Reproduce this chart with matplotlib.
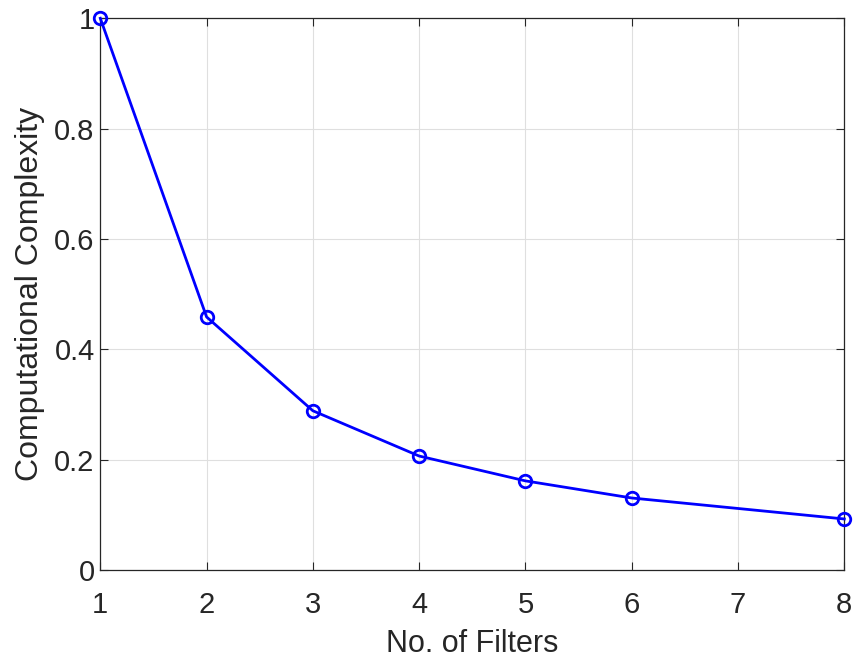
import matplotlib
matplotlib.use("Agg")
import matplotlib.pyplot as plt

filters = [1, 2, 3, 4, 5, 6, 8]
complexity = [1.0, 0.459, 0.289, 0.207, 0.162, 0.131, 0.093]
xticks = [1, 2, 3, 4, 5, 6, 7, 8]
yticks = [0, 0.2, 0.4, 0.6, 0.8, 1]
ytick_labels = ["0", "0.2", "0.4", "0.6", "0.8", "1"]

plt.rcParams['font.family'] = ['Liberation Sans', 'DejaVu Sans']
txt = '#262626'

fig = plt.figure(figsize=(8.59, 6.6), dpi=100)
ax = fig.add_axes([100.3/859, 1 - 570.3/660, (844.3-100.3)/859, (570.3-18.3)/660])
ax.plot(filters, complexity, color='#0000ff', lw=2.0, marker='o', ms=9,
        mfc='none', mec='#0000ff', mew=2.0, clip_on=False, zorder=3)
ax.set_xlim(1, 8)
ax.set_ylim(0, 1)
ax.set_xticks(xticks)
ax.set_yticks(yticks)
ax.set_yticklabels(ytick_labels)
ax.grid(True, color='#dfdfdf', lw=0.8)
ax.set_axisbelow(True)
ax.tick_params(direction='in', length=6, width=0.8, top=True, right=True,
               labelsize=21, colors=txt)
ax.tick_params(axis='x', pad=15)
ax.tick_params(axis='y', pad=4)
for s in ax.spines.values():
    s.set_color(txt)
    s.set_linewidth(0.9)
ax.set_xlabel('No. of Filters', fontsize=22, color=txt, labelpad=7)
ax.set_ylabel('Computational Complexity', fontsize=23, color=txt, labelpad=7)
fig.savefig('out.png', dpi=100)
